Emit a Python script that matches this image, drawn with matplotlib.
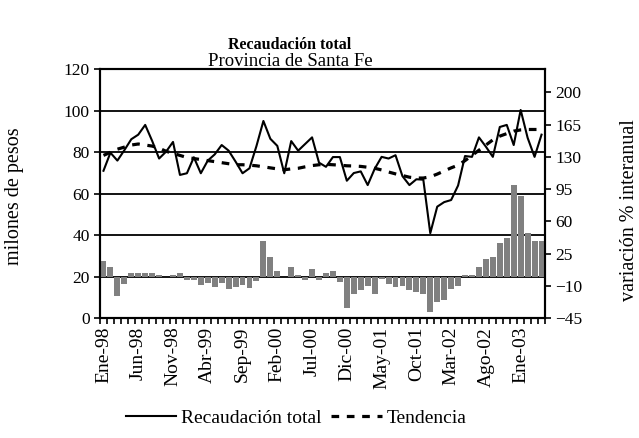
import numpy as np
import matplotlib.pyplot as plt
from matplotlib.lines import Line2D

plt.rcParams['font.family'] = ['Liberation Serif', 'DejaVu Serif']

# meses Ene-98 .. Abr-03
meses = ['Ene', 'Feb', 'Mar', 'Abr', 'May', 'Jun', 'Jul', 'Ago', 'Sep', 'Oct', 'Nov', 'Dic']
anios = ['98', '99', '00', '01', '02', '03']
periodos = [m + '-' + a for a in anios for m in meses][:64]

# recaudacion total, millones de pesos (eje izq.)
recaudacion = [71.1, 79.8, 76.0, 81.0, 86.3, 88.5, 93.2, 85.5, 77.0, 80.3,
               85.0, 69.1, 69.9, 77.6, 69.9, 76.0, 79.0, 83.5, 80.8, 75.5,
               69.9, 72.3, 83.0, 95.1, 86.5, 83.1, 69.9, 85.4, 80.8, 84.0,
               87.2, 75.0, 73.0, 77.7, 77.7, 66.3, 70.0, 70.8, 64.2, 72.0,
               77.8, 77.0, 78.6, 68.5, 64.2, 67.0, 66.8, 41.0, 53.8, 56.0,
               57.0, 64.0, 78.2, 77.8, 87.2, 82.7, 77.8, 92.2, 93.2, 83.5,
               100.4, 87.0, 77.8, 88.5]

# tendencia (eje izq.)
tendencia = [78.5, 80.0, 81.5, 82.5, 83.5, 84.0, 83.5, 83.0, 82.0, 80.5,
             79.5, 78.5, 77.5, 77.0, 76.5, 76.0, 75.5, 75.0, 74.5, 74.0,
             74.0, 73.8, 73.5, 73.0, 72.5, 72.0, 71.6, 72.0, 72.3, 73.0,
             73.6, 74.0, 74.2, 74.0, 73.8, 73.5, 73.4, 73.2, 72.8, 72.3,
             71.5, 70.5, 69.6, 68.8, 68.0, 67.6, 67.6, 68.2, 69.5, 71.0,
             72.5, 73.8, 76.0, 78.5, 81.0, 83.5, 86.0, 87.8, 89.0, 90.2,
             90.8, 91.0, 91.0, 91.0]

# variacion % interanual (eje der.)
variacion = [17.2, 10.5, -20.6, -7.5, 4.2, 4.2, 4.2, 4.2, 1.8, -0.5,
             1.8, 4.2, -3.0, -3.0, -9.3, -7.2, -11.5, -7.2, -13.7, -11.5,
             -9.4, -12.0, -4.3, 38.9, 21.5, 6.7, 0.3, 10.7, 2.0, -3.0,
             8.5, -3.0, 4.4, 6.5, -5.2, -33.5, -18.3, -14.0, -9.8, -18.3,
             -2.7, -7.6, -11.4, -9.8, -14.2, -16.5, -18.3, -37.8, -27.0, -25.0,
             -13.6, -9.6, 2.0, 2.0, 10.5, 19.2, 21.7, 37.0, 41.7, 99.6,
             87.3, 47.5, 38.8, 38.8]

W, H = 639, 438
fig = plt.figure(figsize=(W / 100, H / 100), dpi=100)
ax = fig.add_axes([100 / W, 1 - 318.3 / H, 445 / W, 249 / H])
ax2 = ax.twinx()

x = np.arange(len(periodos))

ax.yaxis.grid(True, color='black', lw=1.3)
ax.set_axisbelow(True)
ax.plot(x, recaudacion, color='black', lw=1.5, zorder=3)
ax.plot(x, tendencia, color='black', lw=2.3, ls=(0, (2.4, 2.4)), zorder=3)
ax2.bar(x, variacion, width=0.85, color='#808080', zorder=2)

ax.set_xlim(-0.5, len(periodos) - 0.5)
ax.set_ylim(0, 120)
ax.set_yticks(range(0, 121, 20))
ax2.set_ylim(-45, 225)
ax2.set_yticks(range(-45, 201, 35))

ax.set_xticks(x[::5])
ax.set_xticklabels(periodos[::5], rotation=90, fontsize=14)
ax.set_xticks(np.arange(-0.5, len(periodos), 1), minor=True)
ax.tick_params(axis='x', which='major', length=0, pad=6)
ax.tick_params(axis='x', which='minor', length=4.5, width=1.2, direction='out')
ax.tick_params(axis='y', length=4.5, width=1.2, labelsize=12.5, pad=3)
ax2.tick_params(axis='y', length=4.5, width=1.2, labelsize=12.5, pad=3)

for a in (ax, ax2):
    for s in a.spines.values():
        s.set_linewidth(1.5)

fig.text(290 / W, 1 - 49 / H, 'Recaudación total', ha='center', va='baseline',
         fontsize=11.5, fontweight='bold')
fig.text(290 / W, 1 - 66 / H, 'Provincia de Santa Fe', ha='center', va='baseline',
         fontsize=13.5)
fig.text(15 / W, 1 - 196 / H, 'milones de pesos', rotation=90, ha='center', va='center',
         fontsize=14.5)
fig.text(629 / W, 1 - 210 / H, 'variación % interanual', rotation=90, ha='center',
         va='center', fontsize=14.5)

handles = [Line2D([], [], color='black', lw=1.5),
           Line2D([], [], color='black', lw=2.3, ls=(0, (2.4, 2.4)))]
fig.legend(handles, ['Recaudación total', 'Tendencia'], loc='center',
           bbox_to_anchor=(296 / W, 1 - 418 / H), ncol=2, frameon=False,
           fontsize=14, handlelength=2.6, handletextpad=0.25, columnspacing=0.5)

fig.savefig('out.png', dpi=100)
